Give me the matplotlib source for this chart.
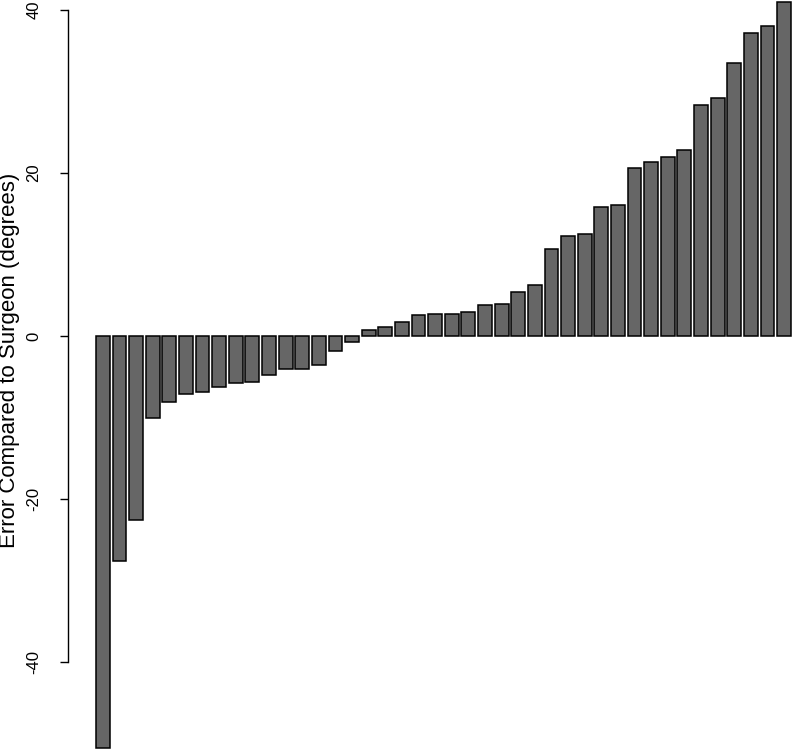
import matplotlib
matplotlib.use('Agg')
import matplotlib.pyplot as plt
import numpy as np

plt.rcParams['font.family'] = ['Liberation Sans', 'DejaVu Sans']

# error of each case vs surgeon, sorted (degrees)
errors = [-50.6, -27.6, -22.6, -10.1, -8.1, -7.1, -6.9, -6.3, -5.8, -5.7,
          -4.8, -4.05, -4.0, -3.6, -1.9, -0.7,
          0.75, 1.15, 1.75, 2.55, 2.65, 2.65, 2.95, 3.8, 3.9, 5.4,
          6.3, 10.7, 12.3, 12.5, 15.8, 16.1, 20.6, 21.4, 22.0, 22.8,
          28.4, 29.2, 33.5, 37.2, 38.1, 41.0]
yticks = [-40, -20, 0, 20, 40]
ylabel = 'Error Compared to Surgeon (degrees)'

fig = plt.figure(figsize=(7.92, 7.5), dpi=100)
ax = fig.add_axes([0, 0, 1, 1])

# R barplot style: width 1, space 0.2
xpos = 0.7 + 1.2 * np.arange(len(errors))
ax.bar(xpos, errors, width=1.0, color='#666666', edgecolor='black', linewidth=1.1)

ax.set_xlim(-6.73, 50.47)
ax.set_ylim(-50.8, 41.23)

for s in ['top', 'right', 'bottom']:
    ax.spines[s].set_visible(False)
ax.spines['left'].set_position(('data', -1.82))
ax.spines['left'].set_bounds(-40, 40)
ax.spines['left'].set_linewidth(1.0)
ax.set_xticks([])
ax.set_yticks(yticks)
ax.set_yticklabels([str(t) for t in yticks], rotation=90, va='center', fontsize=12)
ax.tick_params(axis='y', length=6, width=1.0, pad=13)
ax.set_ylabel(ylabel, fontsize=16)
ax.yaxis.set_label_coords(0.025, 0.52)

fig.savefig('out.png', dpi=100)
